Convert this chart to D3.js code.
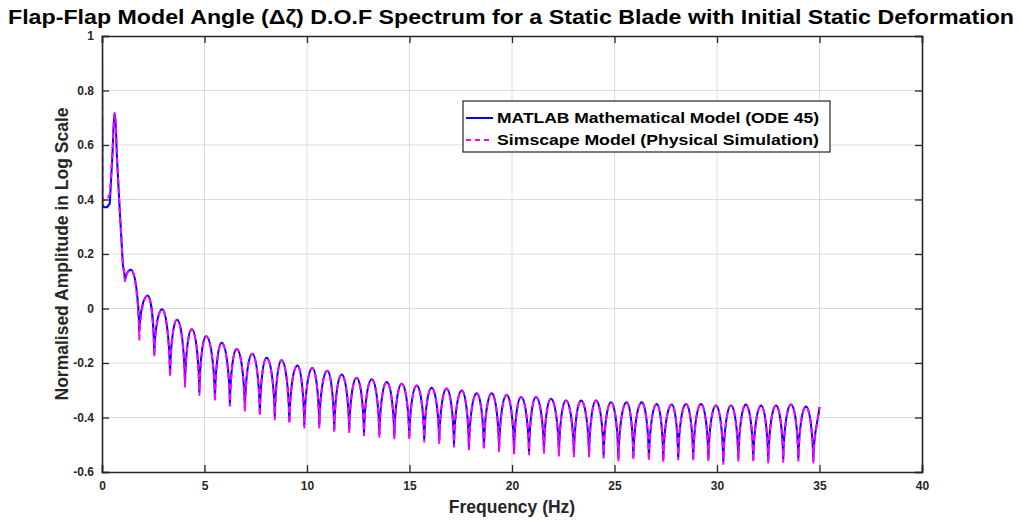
<!DOCTYPE html>
<html>
<head>
<meta charset="utf-8">
<script src="https://cdn.jsdelivr.net/npm/d3@7"></script>
<style>
  body { margin: 0; background: #fff; }
  text { font-family: "Liberation Sans", Arial, sans-serif; font-weight: bold; }
</style>
</head>
<body>
<script>
//frequency of each turning point (Hz)
var freqHz = [0, 0.02, 0.1, 0.25, 0.38, 0.5, 0.62, 0.74, 0.88, 1.02,
    1.12, 1.41, 1.82, 2.23, 2.55, 2.93, 3.32, 3.66, 4.05, 4.38,
    4.75, 5.08, 5.51, 5.84, 6.24, 6.57, 6.97, 7.33, 7.70, 8.03,
    8.43, 8.76, 9.14, 9.53, 9.87, 10.26, 10.60, 10.99, 11.33, 11.69,
    12.06, 12.42, 12.78, 13.16, 13.53, 13.89, 14.26, 14.62, 14.99, 15.35,
    15.72, 16.08, 16.45, 16.81, 17.17, 17.55, 17.90, 18.28, 18.63, 19.01,
    19.37, 19.74, 20.10, 20.44, 20.83, 21.17, 21.56, 21.90, 22.29, 22.63,
    23.02, 23.37, 23.76, 24.10, 24.47, 24.83, 25.19, 25.59, 25.92, 26.33,
    26.68, 27.06, 27.38, 27.79, 28.11, 28.49, 28.84, 29.22, 29.58, 29.95,
    30.31, 30.68, 31.04, 31.41, 31.77, 32.15, 32.50, 32.88, 33.23, 33.61,
    33.97, 34.34, 34.70, 35.0];

//MATLAB ODE 45 model
var matlabAmp = [1.0, 0.38, 0.372, 0.372, 0.385, 0.55, 0.717, 0.54, 0.34, 0.16,
    0.099, 0.142, -0.085, 0.048, -0.168, -0.003, -0.242, -0.041, -0.278, -0.076,
    -0.308, -0.102, -0.330, -0.126, -0.348, -0.149, -0.368, -0.166, -0.386, -0.181,
    -0.400, -0.190, -0.415, -0.209, -0.430, -0.218, -0.430, -0.228, -0.446, -0.242,
    -0.448, -0.254, -0.458, -0.260, -0.464, -0.270, -0.470, -0.276, -0.472, -0.283,
    -0.482, -0.291, -0.487, -0.294, -0.500, -0.301, -0.510, -0.311, -0.510, -0.311,
    -0.517, -0.317, -0.525, -0.325, -0.528, -0.325, -0.524, -0.331, -0.533, -0.338,
    -0.536, -0.338, -0.536, -0.338, -0.540, -0.344, -0.551, -0.344, -0.546, -0.344,
    -0.551, -0.350, -0.555, -0.352, -0.547, -0.350, -0.551, -0.350, -0.551, -0.356,
    -0.563, -0.356, -0.551, -0.352, -0.556, -0.356, -0.560, -0.356, -0.556, -0.352,
    -0.551, -0.360, -0.560, -0.362];

//Simscape model
var simscapeAmp = [1.0, 0.40, 0.398, 0.400, 0.42, 0.56, 0.717, 0.54, 0.34, 0.16,
    0.099, 0.142, -0.117, 0.048, -0.178, -0.003, -0.252, -0.041, -0.290, -0.076,
    -0.320, -0.102, -0.342, -0.126, -0.360, -0.149, -0.378, -0.166, -0.396, -0.181,
    -0.410, -0.190, -0.425, -0.209, -0.440, -0.218, -0.440, -0.228, -0.456, -0.242,
    -0.458, -0.254, -0.468, -0.260, -0.474, -0.270, -0.480, -0.276, -0.482, -0.283,
    -0.492, -0.291, -0.497, -0.294, -0.510, -0.301, -0.520, -0.311, -0.520, -0.311,
    -0.527, -0.317, -0.535, -0.325, -0.538, -0.325, -0.534, -0.331, -0.543, -0.338,
    -0.546, -0.338, -0.546, -0.338, -0.550, -0.344, -0.561, -0.344, -0.556, -0.344,
    -0.561, -0.350, -0.565, -0.352, -0.557, -0.350, -0.561, -0.350, -0.561, -0.356,
    -0.573, -0.356, -0.561, -0.352, -0.566, -0.356, -0.570, -0.356, -0.566, -0.352,
    -0.561, -0.360, -0.570, -0.362];

var xTicks = [0, 5, 10, 15, 20, 25, 30, 35, 40];
var yTicks = [-0.6, -0.4, -0.2, 0, 0.2, 0.4, 0.6, 0.8, 1];
var legendLabels = ['MATLAB Mathematical Model (ODE 45)', 'Simscape Model (Physical Simulation)'];

var W = 1022, H = 520;
var margin = {top: 36, right: 100, bottom: 48, left: 102};
var width = W - margin.left - margin.right,
    height = H - margin.top - margin.bottom;

var svg = d3.select('body').append('svg')
    .attr('width', W)
    .attr('height', H);

var g = svg.append('g')
    .attr('transform', 'translate(' + margin.left + ',' + margin.top + ')');

var x = d3.scaleLinear().domain([0, 40]).range([0, width]);
var y = d3.scaleLinear().domain([-0.6, 1]).range([height, 0]);

//grid
g.append('g').selectAll('line').data(xTicks.slice(1, -1)).enter().append('line')
    .attr('x1', function(d){ return x(d); }).attr('x2', function(d){ return x(d); })
    .attr('y1', 0).attr('y2', height)
    .attr('stroke', '#dcdcdc').attr('stroke-width', 1);
g.append('g').selectAll('line').data(yTicks.slice(1, -1)).enter().append('line')
    .attr('y1', function(d){ return y(d); }).attr('y2', function(d){ return y(d); })
    .attr('x1', 0).attr('x2', width)
    .attr('stroke', '#dcdcdc').attr('stroke-width', 1);

//clip
svg.append('defs').append('clipPath').attr('id', 'clip')
    .append('rect').attr('x', 0).attr('y', -2).attr('width', width).attr('height', height + 2);

//lobe path: sharp at the dips, rounded at the tops, straight elsewhere
function lobePath(amp){
    var p = d3.path();
    var pts = freqHz.map(function(f, i){ return [x(f), y(amp[i])]; });
    var kind = amp.map(function(v, i){
        if (i === 0 || i === amp.length - 1) return 'pass';
        if (v > amp[i - 1] && v > amp[i + 1]) return 'peak';
        if (v < amp[i - 1] && v < amp[i + 1]) return 'dip';
        return 'pass';
    });
    p.moveTo(pts[0][0], pts[0][1]);
    for (var i = 1; i < pts.length; i++){
        var a = pts[i - 1], b = pts[i];
        var dx = b[0] - a[0], dy = b[1] - a[1];
        var c1, c2;
        if (kind[i - 1] === 'peak') c1 = [a[0] + 0.45 * dx, a[1]];
        else if (kind[i - 1] === 'dip') c1 = [a[0] + 0.1 * dx, a[1] + 0.6 * dy];
        else c1 = [a[0] + dx / 3, a[1] + dy / 3];
        if (kind[i] === 'peak') c2 = [b[0] - 0.45 * dx, b[1]];
        else if (kind[i] === 'dip') c2 = [b[0] - 0.1 * dx, b[1] - 0.6 * dy];
        else c2 = [b[0] - dx / 3, b[1] - dy / 3];
        p.bezierCurveTo(c1[0], c1[1], c2[0], c2[1], b[0], b[1]);
    }
    return p.toString();
}

var plot = g.append('g').attr('clip-path', 'url(#clip)');
plot.append('path')
    .attr('d', lobePath(matlabAmp))
    .attr('fill', 'none').attr('stroke', '#0000ff').attr('stroke-width', 2);
plot.append('path')
    .attr('d', lobePath(simscapeAmp))
    .attr('fill', 'none').attr('stroke', '#ff00ff').attr('stroke-width', 2)
    .attr('stroke-dasharray', '6,4');

//axes
var fmt = function(d){ return String(+d.toFixed(1)); };
var axisColor = '#262626';

var xAxis = g.append('g').attr('transform', 'translate(0,' + height + ')')
    .call(d3.axisBottom(x).tickValues(xTicks).tickSize(-7).tickPadding(9).tickFormat(fmt));
var xTop = g.append('g')
    .call(d3.axisTop(x).tickValues(xTicks).tickSize(-7).tickFormat(''));
var yAxis = g.append('g')
    .call(d3.axisLeft(y).tickValues(yTicks).tickSize(-7).tickPadding(8).tickFormat(fmt));
var yRight = g.append('g').attr('transform', 'translate(' + width + ',0)')
    .call(d3.axisRight(y).tickValues(yTicks).tickSize(-7).tickFormat(''));

[xAxis, xTop, yAxis, yRight].forEach(function(a){
    a.select('.domain').attr('stroke', axisColor).attr('stroke-width', 1.6);
    a.selectAll('.tick line').attr('stroke', axisColor).attr('stroke-width', 1.3);
    a.selectAll('.tick text').attr('fill', axisColor).style('font-size', '12px')
        .style('font-family', '"Liberation Sans", Arial, sans-serif').style('font-weight', 'bold');
});

//titles
svg.append('text')
    .attr('x', 511).attr('y', 24)
    .attr('text-anchor', 'middle')
    .attr('textLength', 1006).attr('lengthAdjust', 'spacingAndGlyphs')
    .style('font-size', '21px').attr('fill', '#000')
    .text('Flap-Flap Model Angle (\u0394\u03B6) D.O.F Spectrum for a Static Blade with Initial Static Deformation');

svg.append('text')
    .attr('x', margin.left + width / 2).attr('y', 513)
    .attr('text-anchor', 'middle')
    .style('font-size', '17.5px').attr('fill', axisColor)
    .text('Frequency (Hz)');

svg.append('text')
    .attr('transform', 'translate(68,' + (margin.top + height / 2) + ') rotate(-90)')
    .attr('text-anchor', 'middle')
    .style('font-size', '17.5px').attr('fill', axisColor)
    .text('Normalised Amplitude in Log Scale');

//legend
var legend = svg.append('g');
legend.append('rect')
    .attr('x', 463).attr('y', 101).attr('width', 367).attr('height', 51)
    .attr('fill', '#fff').attr('stroke', axisColor).attr('stroke-width', 1.2);

var legendStyles = [
    {color: '#0000ff', dash: null},
    {color: '#ff00ff', dash: '5,4'}
];
legendLabels.forEach(function(label, i){
    var ly = 118 + i * 22;
    legend.append('line')
        .attr('x1', 466).attr('x2', 493).attr('y1', ly).attr('y2', ly)
        .attr('stroke', legendStyles[i].color).attr('stroke-width', 2)
        .attr('stroke-dasharray', legendStyles[i].dash);
    legend.append('text')
        .attr('x', 497).attr('y', ly + 5)
        .attr('textLength', 322).attr('lengthAdjust', 'spacingAndGlyphs')
        .style('font-size', '15px').attr('fill', '#000')
        .text(label);
});
</script>
</body>
</html>
